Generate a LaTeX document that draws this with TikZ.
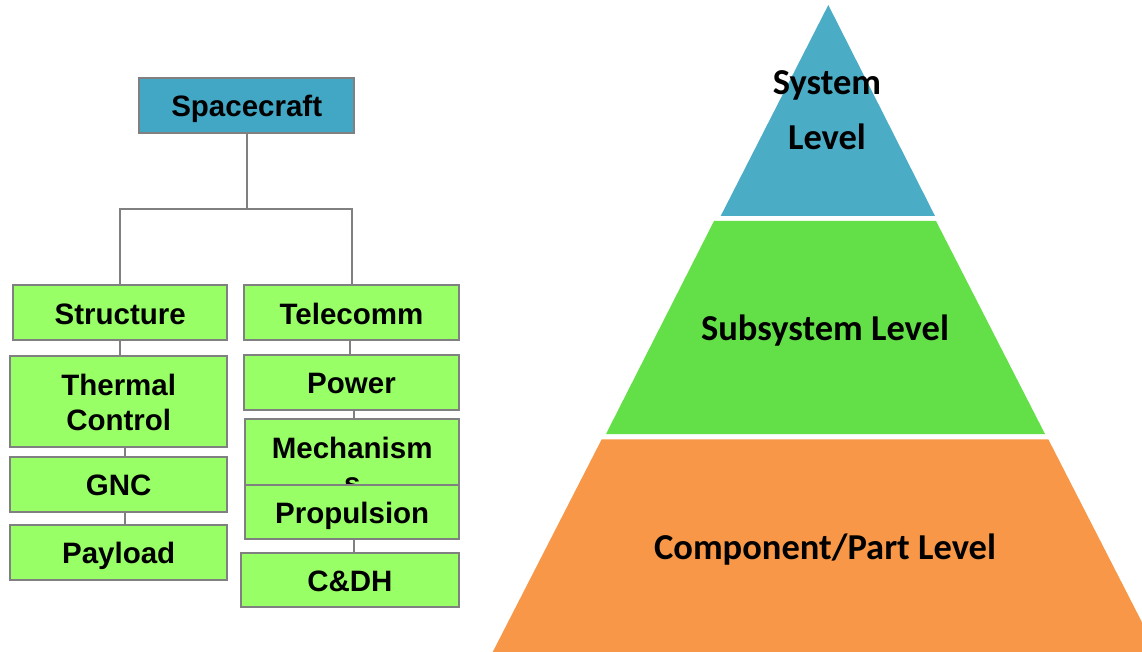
\documentclass[tikz,border=0pt]{standalone}
\usepackage{fontspec}
\newfontfamily\arialb{Liberation Sans}
\newfontfamily\calb{Carlito}
\definecolor{scblue}{RGB}{66,167,197}
\definecolor{boxgreen}{RGB}{153,255,102}
\definecolor{boxgray}{RGB}{128,128,128}
\definecolor{pyblue}{RGB}{75,172,198}
\definecolor{pygreen}{RGB}{99,224,71}
\definecolor{pyorange}{RGB}{247,151,71}
\begin{document}
\begin{tikzpicture}[x=1pt,y=-1pt,
  orgbox/.style={draw=boxgray, line width=2pt, fill=boxgreen, inner sep=0pt,
    font=\arialb\bfseries\fontsize{29.5}{35}\selectfont, align=center, text=black,
    text height=24.5pt, text depth=2pt},
  twoline/.style={text height=59.5pt, text depth=2pt},
  conn/.style={draw=boxgray, line width=2pt},
  pytext/.style={font=\calb\bfseries\fontsize{36.5}{44}\selectfont, align=center, text=black, inner sep=0pt,
    text height=25pt, text depth=1pt}]
\useasboundingbox (0,0) rectangle (1142,652);
% pyramid
\fill[pyblue] (828.3,5) -- (935,216) -- (720.7,216) -- cycle;
\fill[pygreen] (714,221) -- (936,221) -- (1045,434) -- (606,434) -- cycle;
\fill[pyorange] (601.7,439.3) -- (1048.3,439.3) -- (1142,622.3) -- (1142,652) -- (492.7,652) -- cycle;
\node[pytext] (sys1) at (827,83) {System};
\node[pytext] (sys2) at (827,138) {Level};
\node[pytext] (sub) at (825,328) {Subsystem Level};
\node[pytext] (comp) at (825,547) {Component/Part Level};
% org chart
\node[orgbox, fill=scblue, minimum width=214.7pt, minimum height=55.6pt] (sc) at (246.7,105.5) {Spacecraft};
\node[orgbox, minimum width=213.7pt, minimum height=55pt] (st) at (120.2,312.8) {Structure};
\node[orgbox, minimum width=214.4pt, minimum height=55pt] (tc) at (351.5,312.8) {Telecomm};
\node[orgbox, twoline, minimum width=216.7pt, minimum height=91pt] (th) at (118.7,401.5) {Thermal\\Control};
\node[orgbox, minimum width=216.7pt, minimum height=55.3pt] (gnc) at (118.7,484.3) {GNC};
\node[orgbox, minimum width=216.7pt, minimum height=55pt] (pl) at (118.7,552.5) {Payload};
\node[orgbox, minimum width=214.4pt, minimum height=55.3pt] (pw) at (351.5,382.3) {Power};
\node[orgbox, twoline, minimum width=214.3pt, minimum height=91pt] (me) at (352.2,464.5) {Mechanism\\s};
\node[orgbox, minimum width=214.3pt, minimum height=54.6pt] (pr) at (352.2,512) {Propulsion};
\node[orgbox, minimum width=217.7pt, minimum height=54.6pt] (cd) at (349.9,580) {C\&DH};
\coordinate (j) at (246.7,209.3);
\draw[conn] (sc.south) -- (j) -| (st.north);
\draw[conn] (j) -| (tc.north);
\draw[conn] (st.south) -- (st.south |- th.north);
\draw[conn] ([xshift=6pt]th.south) -- ([xshift=6pt]th.south |- gnc.north);
\draw[conn] ([xshift=6pt]gnc.south) -- ([xshift=6pt]gnc.south |- pl.north);
\draw[conn] ([xshift=-1.5pt]tc.south) -- ([xshift=-1.5pt]tc.south |- pw.north);
\draw[conn] ([xshift=2.5pt]pw.south) -- ([xshift=2.5pt]pw.south |- me.north);
\draw[conn] ([xshift=2pt]pr.south) -- ([xshift=2pt]pr.south |- cd.north);
\end{tikzpicture}
\end{document}
